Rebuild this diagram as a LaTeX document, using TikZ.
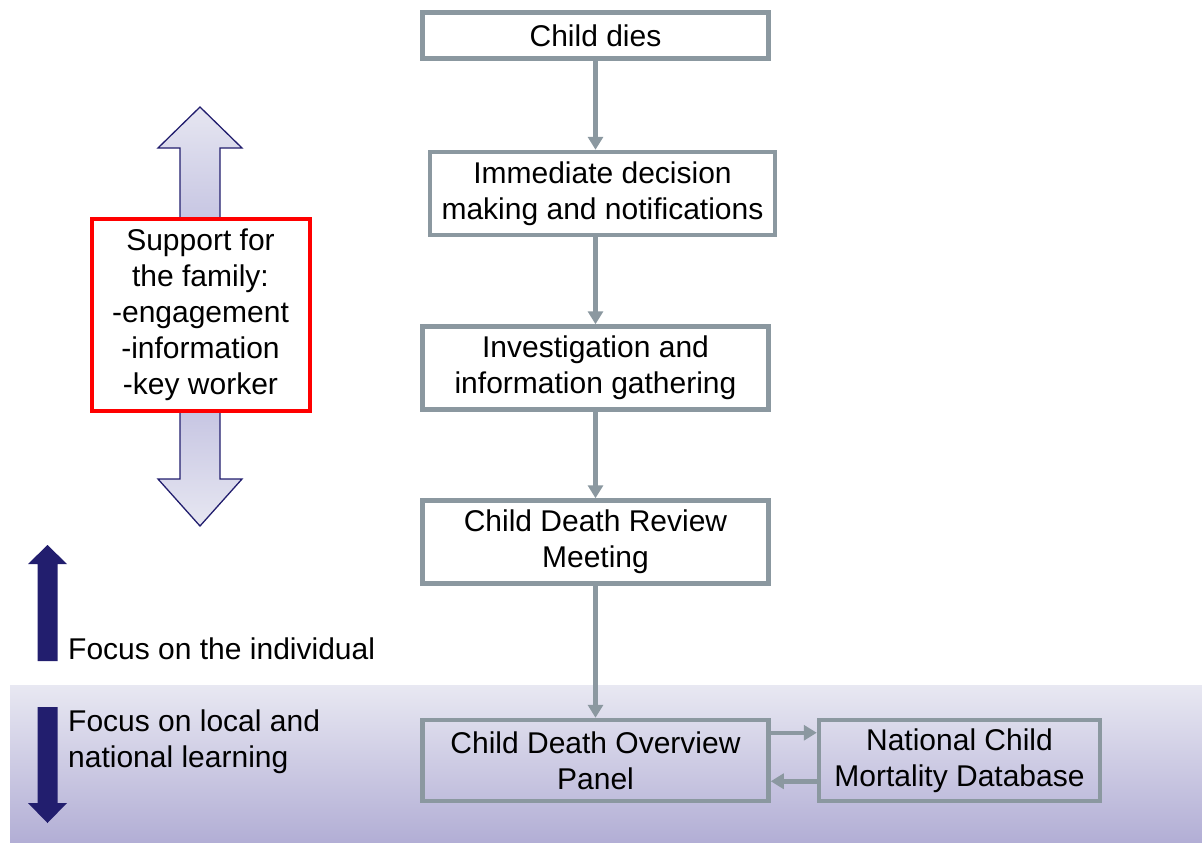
\documentclass[tikz,border=0pt]{standalone}
\usepackage{fontspec}
\setmainfont{Liberation Sans}
\usepackage{xcolor}
\usetikzlibrary{arrows.meta}
\definecolor{boxgray}{HTML}{8B98A0}
\definecolor{navy}{HTML}{221E6E}
\definecolor{lavtop}{HTML}{E8E8F2}
\definecolor{lavbot}{HTML}{B2AED5}
\definecolor{lavmid}{HTML}{ACAAD6}

\begin{document}
\begin{tikzpicture}[x=1pt, y=-1pt,
    flowbox/.style={draw=boxgray, line width=4.5pt, fill=white, align=center,
        font=\fontsize{30}{36}\selectfont, inner sep=0pt},
    flowline/.style={draw=boxgray, line width=4.5pt, -{Triangle[width=15pt,length=13pt]}},
    label/.style={font=\fontsize{30}{36}\selectfont, align=left, anchor=west, inner sep=0pt}]
\useasboundingbox (0,0) rectangle (1202,843);
% lower band
\shade[top color=lavtop, bottom color=lavbot] (10,685) rectangle (1202,843);
% family support double arrow
\begin{scope}
\clip (200,107) -- (242,148) -- (220,148) -- (220,479) -- (242,479) -- (200,526)
    -- (158,479) -- (180,479) -- (180,148) -- (158,148) -- cycle;
\shade[top color=lavtop, bottom color=lavmid] (150,100) rectangle (250,316);
\shade[top color=lavmid, bottom color=lavtop] (150,316) rectangle (250,530);
\end{scope}
\draw[navy, line width=1.3pt] (200,107) -- (242,148) -- (220,148) -- (220,479) -- (242,479)
    -- (200,526) -- (158,479) -- (180,479) -- (180,148) -- (158,148) -- cycle;
\node[draw=red, line width=4pt, fill=white, align=center, inner sep=0pt,
    minimum width=218pt, minimum height=192pt, font=\fontsize{30}{36}\selectfont]
    (support) at (200.5,314.5) {Support for\\the family:\\-engagement\\-information\\-key worker};
% focus arrows
\fill[navy] (47.5,545) -- (67,564) -- (57.5,564) -- (57.5,661) -- (37.5,661)
    -- (37.5,564) -- (28,564) -- cycle;
\fill[navy] (37.5,707) -- (57.5,707) -- (57.5,803) -- (67,803) -- (47.5,823)
    -- (28,803) -- (37.5,803) -- cycle;
\node[label] (indiv) at (68,649) {Focus on the individual};
\node[label] (learn) at (68,742) {Focus on local and\\national learning};
% flow chart
\node[flowbox, minimum width=346pt, minimum height=46pt] (dies) at (595.5,35.5) {Child dies};
\node[flowbox, minimum width=345pt, minimum height=83pt] (imm) at (602.5,193.5) {Immediate decision\\making and notifications};
\node[flowbox, minimum width=346pt, minimum height=83pt] (inv) at (595.5,368) {Investigation and\\information gathering};
\node[flowbox, minimum width=346pt, minimum height=83pt] (cdr) at (595.5,542) {Child Death Review\\Meeting};
\node[flowbox, fill=none, minimum width=346pt, minimum height=81pt] (cdop) at (595.5,760.5) {Child Death Overview\\Panel};
\node[flowbox, fill=none, minimum width=281pt, minimum height=81pt] (ncmd) at (959.5,760.5) {National Child\\Mortality Database};
\draw[flowline] (dies.south) -- (dies.south |- imm.north);
\draw[flowline] (dies.south |- imm.south) -- (inv.north);
\draw[flowline] (inv.south) -- (cdr.north);
\draw[flowline] (cdr.south) -- (cdop.north);
\draw[flowline] ([yshift=-15pt]cdop.north east) -- ([yshift=-15pt]ncmd.north west);
\draw[flowline] ([yshift=22pt]ncmd.south west) -- ([yshift=22pt]cdop.south east);
\end{tikzpicture}
\end{document}
